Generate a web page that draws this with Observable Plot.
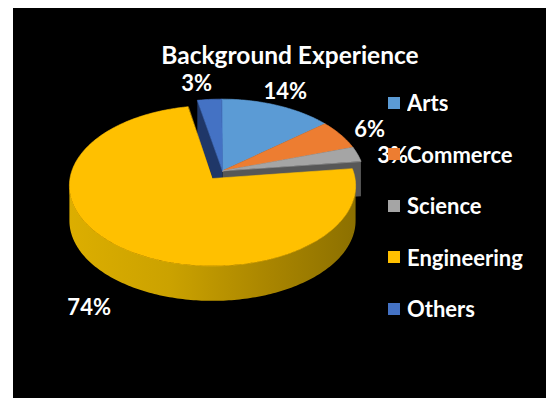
<!DOCTYPE html>
<html>
<head>
<meta charset="utf-8">
<script src="https://cdn.jsdelivr.net/npm/d3@7"></script>
<script src="https://cdn.jsdelivr.net/npm/@observablehq/plot@0.6"></script>
<style>
html, body { margin: 0; padding: 0; background: #fff; }
#frame { position: absolute; left: 13px; top: 8px; width: 533px; height: 390px; background: #000; overflow: hidden;
  font-family: Lato, "Open Sans", sans-serif; color: #fff; }
#title { height: 62px; box-sizing: border-box; padding: 35px 0 0 21px; font-size: 24.5px; line-height: 24px;
  font-weight: 700; text-align: center; white-space: nowrap; }
#row { display: flex; flex-direction: row; align-items: flex-start; }
#chart svg { overflow: visible; display: block; }
#legend { padding-top: 7px; }
#legend > div { margin: 0; font-family: Lato, sans-serif; font-size: 22px; font-weight: 700; color: #fff; }
#legend > div > div { display: flex; align-items: center; height: 51.5px; padding: 0; margin: 0; }
#legend svg { margin-right: 7px; }
</style>
</head>
<body>
<div id="frame">
  <div id="title"></div>
  <div id="row"><div id="chart"></div><div id="legend"></div></div>
</div>
<script>
// ---- data ----
const title = "Background Experience";
const categories = ["Arts", "Commerce", "Science", "Engineering", "Others"];
const shares = [14, 6, 3, 74, 3];
const pctLabels = ["14%", "6%", "3%", "74%", "3%"];
const colors = ["#5b9bd5", "#ed7d31", "#a5a5a5", "#ffc000", "#4472c4"];

// ---- view (3D pie projection) ----
const W = 375, H = 328, CX = 199, CY = 108, PX = 142.5;
const TILT = 79.5 / 142.5, PERSP = 0.09, DEPTH = 35 / 142.5, EXPLODE = 0.12, LABEL_R = 1.33;
const proj = (u, v, dz = 0) => { const s = 1 / (1 - PERSP * v); return {x: u * s, y: -TILT * v * s - dz}; };
const deg = Math.PI / 180;

const slices = d3.pie().sort(null).value(d => d.share).startAngle(0).endAngle(2 * Math.PI)(
  categories.map((name, i) => ({name, share: shares[i], label: pctLabels[i]})));
const big = d3.maxIndex(shares);
const gStart = slices[big].endAngle, gEnd = slices[big].startAngle + 2 * Math.PI;
const gMid = (gStart + gEnd) / 2;
const gOff = {u: EXPLODE * Math.sin(gMid), v: -EXPLODE * Math.cos(gMid)};
const zero = {u: 0, v: 0};
const offOf = i => i === big ? zero : gOff;
const rim = (off, t, dz = 0) => proj(off.u + Math.sin(t), off.v - Math.cos(t), dz);
const arcPts = (a0, a1, off, dz) => {
  const n = Math.max(2, Math.ceil((a1 - a0) / deg));
  return d3.range(n + 1).map(k => rim(off, a0 + (a1 - a0) * k / n, dz));
};
const tag = (pts, name) => pts.map(p => ({...p, name}));

const tops = slices.map((s, i) => tag([proj(offOf(i).u, offOf(i).v), ...arcPts(s.startAngle, s.endAngle, offOf(i), 0)], s.data.name));
const groupTops = tops.filter((_, i) => i !== big).flat();
const bigTop = tops[big];

const wall = (t, off) => [proj(off.u, off.v), rim(off, t), rim(off, t, DEPTH), proj(off.u, off.v, DEPTH)];
const wallEnd = wall(gEnd, gOff);     // cut face after the last small slice
const wallStart = wall(gStart, gOff); // cut face before the first small slice

const ts = Math.acos(-PERSP);
const s0 = Math.max(slices[big].startAngle, ts), s1 = Math.min(slices[big].endAngle, 2 * Math.PI - ts);
const side = [...arcPts(s0, s1, zero, 0), ...arcPts(s0, s1, zero, DEPTH).reverse()];

const labelData = slices.map((s, i) => {
  const m = (s.startAngle + s.endAngle) / 2;
  const u = LABEL_R * Math.sin(m), v = -LABEL_R * Math.cos(m);
  return {...proj(u, v, v > 0 ? DEPTH : 0), text: s.data.label};
});

const chart = Plot.plot({
  width: W, height: H, margin: 0,
  x: {domain: [-CX / PX, (W - CX) / PX], axis: null},
  y: {domain: [-(H - CY) / PX, CY / PX], axis: null},
  color: {domain: categories, range: colors},
  style: {background: "transparent", overflow: "visible"},
  marks: [
    Plot.line(wallEnd, {x: "x", y: "y", fill: "#575757", stroke: "none", curve: "linear-closed"}),
    Plot.line(wallStart, {x: "x", y: "y", fill: "#1f3768", stroke: "none", curve: "linear-closed"}),
    Plot.line(groupTops, {x: "x", y: "y", z: "name", fill: "name", stroke: "name", strokeWidth: 0.6, curve: "linear-closed"}),
    Plot.line(side, {x: "x", y: "y", fill: "url(#sideGrad)", stroke: "none", curve: "linear-closed"}),
    Plot.line(bigTop, {x: "x", y: "y", z: "name", fill: "name", stroke: "name", strokeWidth: 0.6, curve: "linear-closed"}),
    Plot.text(labelData, {x: "x", y: "y", text: "text", fill: "white", fontSize: 22, fontWeight: "bold",
      fontFamily: "Lato, sans-serif"})
  ]
});
d3.select(chart).insert("defs", ":first-child").html(
  `<linearGradient id="sideGrad" x1="0" y1="0" x2="1" y2="0">
     <stop offset="0" stop-color="#dcae00"/>
     <stop offset="0.35" stop-color="#cba200"/>
     <stop offset="0.7" stop-color="#a98500"/>
     <stop offset="1" stop-color="#8c7000"/>
   </linearGradient>`);
document.getElementById("chart").appendChild(chart);
document.getElementById("title").textContent = title;
document.getElementById("legend").appendChild(chart.legend("color", {columns: 1, swatchSize: 12, className: "leg"}));
</script>
</body>
</html>
